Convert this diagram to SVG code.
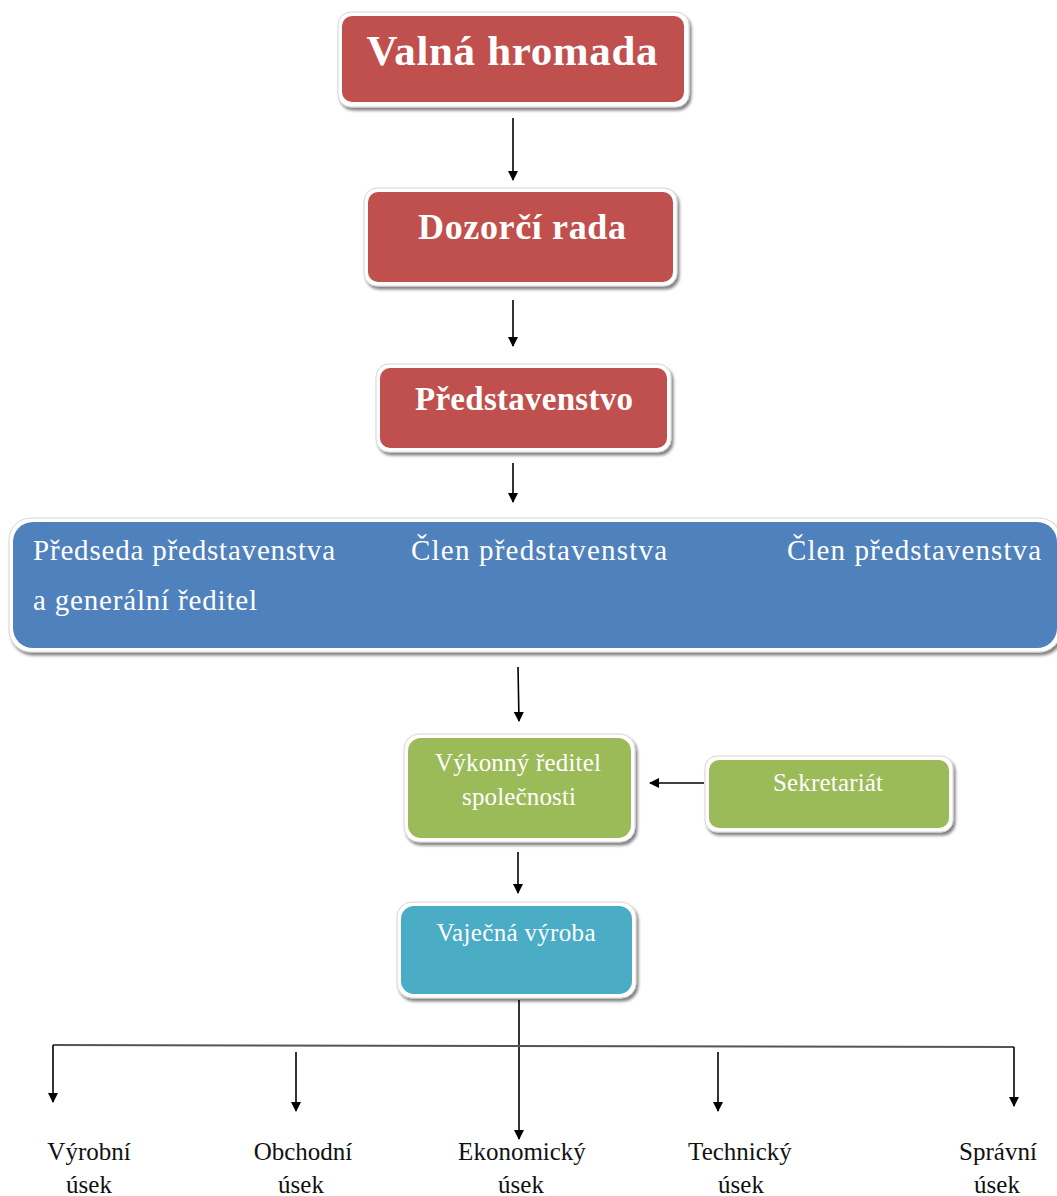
<svg xmlns="http://www.w3.org/2000/svg" width="1057" height="1196" viewBox="0 0 1057 1196">
<style>
.outer{fill:#ffffff;stroke:#d4d4d4;stroke-width:1;filter:url(#sh)}
.red{fill:#C0504D}
.blue{fill:#4F81BD}
.green{fill:#9BBB59}
.cyan{fill:#4BACC6}
.tb{font-family:"Liberation Serif","Times New Roman",serif;font-weight:bold;fill:#ffffff;text-anchor:middle}
.tw{font-family:"Liberation Serif","Times New Roman",serif;fill:#ffffff}
.tk{font-family:"Liberation Serif","Times New Roman",serif;fill:#111111;text-anchor:middle;font-size:25px}
.ln{stroke:#000;stroke-width:1.6;fill:none}
.hl{stroke:#555;stroke-width:2;fill:none}
</style>
<defs>
<filter id="sh" x="-10%" y="-20%" width="125%" height="150%">
<feGaussianBlur in="SourceAlpha" stdDeviation="1.5"/>
<feOffset dx="2" dy="3" result="b"/>
<feComponentTransfer><feFuncA type="linear" slope="0.5"/></feComponentTransfer>
<feMerge><feMergeNode/><feMergeNode in="SourceGraphic"/></feMerge>
</filter>
<marker id="ah" markerWidth="10" markerHeight="10" viewBox="0 0 10 10" refX="9" refY="5" orient="auto" markerUnits="userSpaceOnUse">
<path d="M0,0 L10,5 L0,10 z" fill="#000"/>
</marker>
</defs>
<rect width="1057" height="1196" fill="#ffffff"/>

<g id="connectors">
<line class="ln" x1="513" y1="118" x2="513" y2="180" marker-end="url(#ah)"/>
<line class="ln" x1="513" y1="300" x2="513" y2="346" marker-end="url(#ah)"/>
<line class="ln" x1="513" y1="463" x2="513" y2="502" marker-end="url(#ah)"/>
<line class="ln" x1="518" y1="667" x2="519" y2="721" marker-end="url(#ah)"/>
<line class="ln" x1="704" y1="783" x2="650" y2="783" marker-end="url(#ah)"/>
<line class="ln" x1="518" y1="852" x2="518" y2="893" marker-end="url(#ah)"/>
<line class="ln" x1="519" y1="1000" x2="519" y2="1139" marker-end="url(#ah)"/>
<line class="hl" x1="53" y1="1045" x2="1014" y2="1047"/>
<line class="ln" x1="53" y1="1045" x2="53" y2="1102" marker-end="url(#ah)"/>
<line class="ln" x1="1014" y1="1047" x2="1014" y2="1106" marker-end="url(#ah)"/>
<line class="ln" x1="296" y1="1052" x2="296" y2="1111" marker-end="url(#ah)"/>
<line class="ln" x1="718" y1="1052" x2="718" y2="1111" marker-end="url(#ah)"/>
</g>

<g id="valna-hromada">
<rect class="outer" x="338" y="12" width="351" height="95" rx="13"/>
<rect class="red" x="342" y="16" width="342" height="86" rx="10"/>
<text class="tb" x="512" y="65" font-size="43" textLength="291" lengthAdjust="spacing">Valná hromada</text>
</g>

<g id="dozorci-rada">
<rect class="outer" x="364" y="188" width="313" height="98" rx="13"/>
<rect class="red" x="368" y="192" width="305" height="90" rx="10"/>
<text class="tb" x="522" y="239" font-size="36" textLength="208" lengthAdjust="spacing">Dozorčí rada</text>
</g>

<g id="predstavenstvo">
<rect class="outer" x="376" y="364" width="295" height="88" rx="13"/>
<rect class="red" x="380" y="368" width="287" height="80" rx="10"/>
<text class="tb" x="524" y="410" font-size="33" textLength="218" lengthAdjust="spacing">Představenstvo</text>
</g>

<g id="clenove">
<rect class="outer" x="9" y="518" width="1052" height="134" rx="22"/>
<rect class="blue" x="13" y="522" width="1044" height="126" rx="20"/>
<text class="tw" x="33" y="560" font-size="29" textLength="302" lengthAdjust="spacing">Předseda představenstva</text>
<text class="tw" x="33" y="610" font-size="29" textLength="224" lengthAdjust="spacing">a generální ředitel</text>
<text class="tw" x="411" y="560" font-size="29" textLength="256" lengthAdjust="spacing">Člen představenstva</text>
<text class="tw" x="787" y="560" font-size="29" textLength="254" lengthAdjust="spacing">Člen představenstva</text>
</g>

<g id="vykonny-reditel">
<rect class="outer" x="404" y="734" width="231" height="108" rx="15"/>
<rect class="green" x="408" y="738" width="223" height="100" rx="13"/>
<text class="tw" x="518" y="771" font-size="25" text-anchor="middle" textLength="166" lengthAdjust="spacing">Výkonný ředitel</text>
<text class="tw" x="519" y="805" font-size="25" text-anchor="middle" textLength="114" lengthAdjust="spacing">společnosti</text>
</g>

<g id="sekretariat">
<rect class="outer" x="705" y="756" width="248" height="76" rx="12"/>
<rect class="green" x="709" y="760" width="240" height="68" rx="10"/>
<text class="tw" x="828" y="791" font-size="25" text-anchor="middle" textLength="110" lengthAdjust="spacing">Sekretariát</text>
</g>

<g id="vajecna-vyroba">
<rect class="outer" x="397" y="902" width="239" height="96" rx="15"/>
<rect class="cyan" x="401" y="906" width="231" height="88" rx="13"/>
<text class="tw" x="516" y="941" font-size="25" text-anchor="middle" textLength="159" lengthAdjust="spacing">Vaječná výroba</text>
</g>

<g id="vyrobni-usek">
<text class="tk" x="89" y="1160">Výrobní</text>
<text class="tk" x="89" y="1193">úsek</text>
</g>
<g id="obchodni-usek">
<text class="tk" x="303" y="1160">Obchodní</text>
<text class="tk" x="301" y="1193">úsek</text>
</g>
<g id="ekonomicky-usek">
<text class="tk" x="522" y="1160">Ekonomický</text>
<text class="tk" x="521" y="1193">úsek</text>
</g>
<g id="technicky-usek">
<text class="tk" x="740" y="1160">Technický</text>
<text class="tk" x="741" y="1193">úsek</text>
</g>
<g id="spravni-usek">
<text class="tk" x="998" y="1160">Správní</text>
<text class="tk" x="997" y="1193">úsek</text>
</g>
</svg>
